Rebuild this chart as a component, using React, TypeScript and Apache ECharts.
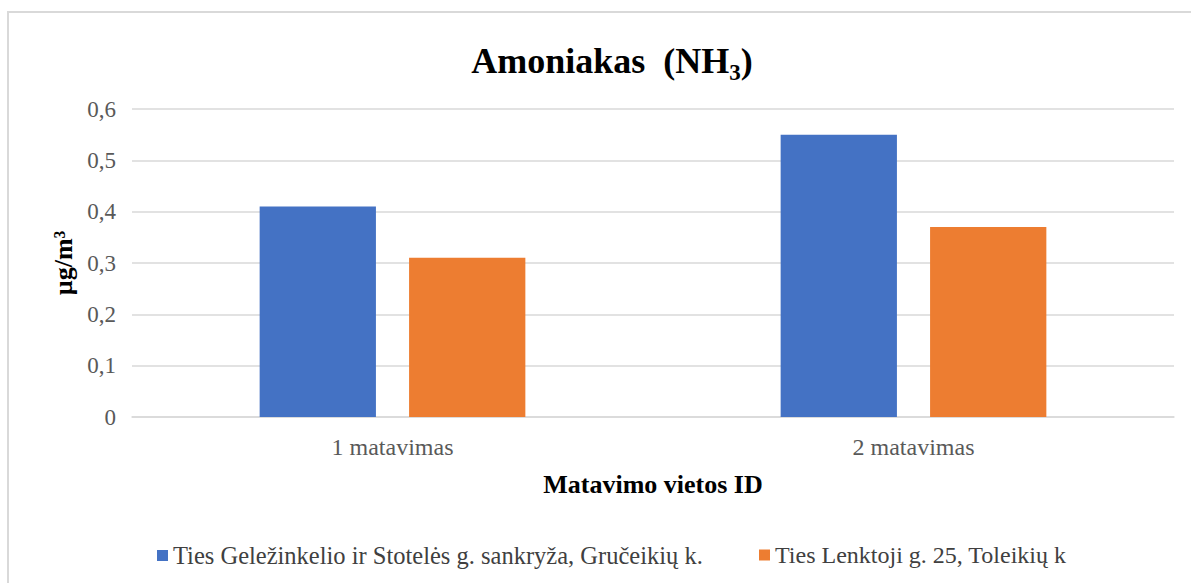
import React, { useEffect, useRef } from "react";
import * as echarts from "echarts";

const categories = ["1 matavimas", "2 matavimas"];
const seriesNames = [
  "Ties Geležinkelio ir Stotelės g. sankryža, Gručeikių k.",
  "Ties Lenktoji g. 25, Toleikių k",
];
const blueValues = [0.41, 0.55];
const orangeValues = [0.31, 0.37];
const yTicks = { min: 0, max: 0.6, interval: 0.1 };

const FONT = "Liberation Serif";

export default function App() {
  const ref = useRef<HTMLDivElement>(null);
  useEffect(() => {
    if (!ref.current) return;
    const chart = echarts.init(ref.current, null, { renderer: "svg" });
    const legendText = { fontFamily: FONT, fontSize: 24, color: "#404040" };
    chart.setOption({
      animation: false,
      backgroundColor: "#ffffff",
      textStyle: { fontFamily: FONT },
      graphic: [
        {
          type: "rect",
          shape: { x: 8, y: 12, width: 1200, height: 600 },
          style: { fill: "none", stroke: "#d9d9d9", lineWidth: 2 },
          silent: true,
        },
      ],
      title: {
        text: "{a|Amoniakas  (NH}{s|3}{a|)}",
        left: 607,
        top: 34,
        textAlign: "center",
        textStyle: {
          rich: {
            a: { fontFamily: FONT, fontSize: 36, fontWeight: "bold", color: "#000", verticalAlign: "bottom", lineHeight: 40 },
            s: { fontFamily: FONT, fontSize: 23, fontWeight: "bold", color: "#000", verticalAlign: "bottom", lineHeight: 30, padding: [0, 0, -5, 0] },
          },
        },
      },
      legend: [
        {
          left: 152,
          top: 538,
          itemWidth: 11,
          itemHeight: 11,
          itemGap: 5,
          icon: "rect",
          data: [seriesNames[0]],
          textStyle: { ...legendText, fontSize: 24.5 },
        },
        {
          left: 754,
          top: 538,
          itemWidth: 11,
          itemHeight: 11,
          itemGap: 5,
          icon: "rect",
          data: [seriesNames[1]],
          textStyle: legendText,
        },
      ],
      grid: { left: 132, right: 17, top: 109, bottom: 166, containLabel: false },
      xAxis: {
        type: "category",
        data: categories,
        name: "Matavimo vietos ID",
        nameLocation: "middle",
        nameGap: 54,
        nameTextStyle: { fontFamily: FONT, fontSize: 26, fontWeight: "bold", color: "#000" },
        axisLine: { lineStyle: { color: "#d9d9d9", width: 1.5 } },
        axisTick: { show: false },
        axisLabel: { fontFamily: FONT, fontSize: 24, color: "#595959", margin: 18 },
      },
      yAxis: {
        type: "value",
        min: yTicks.min,
        max: yTicks.max,
        interval: yTicks.interval,
        name: "µg/m³",
        nameLocation: "middle",
        nameGap: 50,
        nameRotate: 90,
        nameTextStyle: { fontFamily: FONT, fontSize: 26, fontWeight: "bold", color: "#000" },
        axisLine: { show: false },
        axisTick: { show: false },
        splitLine: { lineStyle: { color: "#d9d9d9", width: 1.5 } },
        axisLabel: {
          fontFamily: FONT,
          fontSize: 23,
          color: "#595959",
          margin: 16,
          formatter: (v: number) => (v === 0 ? "0" : v.toFixed(1).replace(".", ",")),
        },
      },
      series: [
        {
          name: seriesNames[0],
          type: "bar",
          data: blueValues,
          itemStyle: { color: "#4472C4" },
          barGap: "28.5%",
          barCategoryGap: "49%",
        },
        {
          name: seriesNames[1],
          type: "bar",
          data: orangeValues,
          itemStyle: { color: "#ED7D31" },
        },
      ],
    });
    return () => chart.dispose();
  }, []);
  return (
    <div
      ref={ref}
      style={{ position: "absolute", left: 0, top: 0, width: 1191, height: 583 }}
    />
  );
}
